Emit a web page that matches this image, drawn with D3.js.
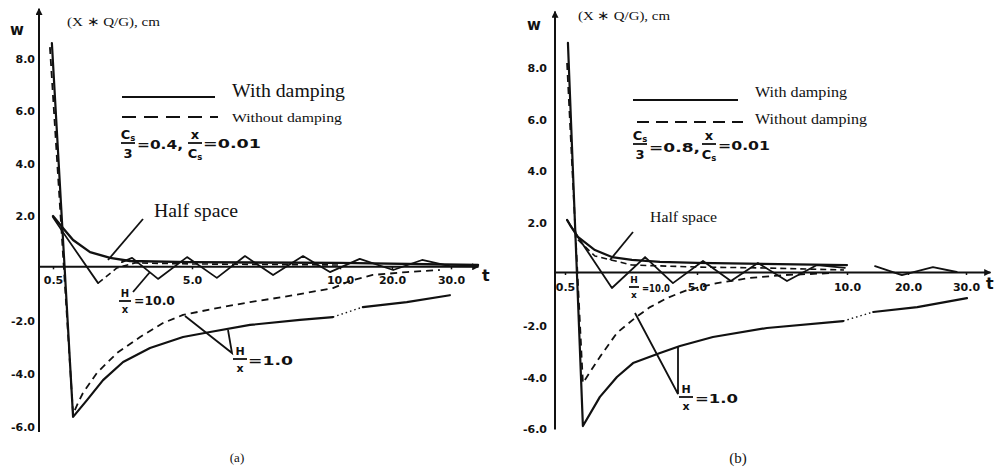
<!DOCTYPE html>
<html><head><meta charset="utf-8">
<script src="https://cdn.jsdelivr.net/npm/d3@7"></script>
<style>
body{margin:0;background:#fff}
svg{display:block}
.hand{font-family:"DejaVu Sans",sans-serif;font-weight:bold;fill:#111}
.serif{font-family:"Liberation Serif","Times New Roman",serif;fill:#111}
</style></head><body>
<svg id="c" width="994" height="472"></svg>
<script>
// ---------- data ----------
const xTicks = [0.5, 5, 10, 20, 30];
const xTickLabels = ["0.5", "5.0", "10.0", "20.0", "30.0"];
const yTicks = [8, 6, 4, 2, -2, -4, -6];
const yTickLabels = ["8.0", "6.0", "4.0", "2.0", "-2.0", "-4.0", "-6.0"];
const seriesNames = ["With damping", "Without damping"];
const curveNames = ["Half space", "H/x = 10.0", "H/x = 1.0"];

// panel (a): Cs/3 = 0.4, x/Cs = 0.01
const aH1Damped = [[0.46,8.49],[1.15,-5.73],[1.60,-5.09],[2.12,-4.33],[2.77,-3.64],[3.64,-3.11],[4.71,-2.69],[5.61,-2.50],[6.96,-2.23],[8.65,-2.04],[9.76,-1.93],null,[14.4,-1.55],[22.5,-1.36],[29.8,-1.10]];
const aH1Dotted = [[9.76,-1.93],[14.4,-1.55]];
const aH1Undamped = [[0.39,8.34],[1.15,-5.62],[1.31,-5.2],[1.47,-4.82],[1.92,-4.06],[2.57,-3.30],[3.32,-2.69],[4.06,-2.16],[4.71,-1.85],[5.84,-1.59],[6.96,-1.36],[8.07,-1.17],[9.76,-0.83],[11.9,-0.56],[16.3,-0.33],[22.5,-0.22],[28.1,-0.14]];
const aHalfSpace = [[0.5,1.91],[0.82,1.46],[1.15,1.00],[1.70,0.54],[2.35,0.32],[2.99,0.20],[4.93,0.16],[10,0.13],[35,0.05]];
const aH10Damped = [[0.5,1.87],[0.82,1.30],[1.96,-0.64],null,[2.73,0.16],[3.06,0.32],[3.90,-0.48],[4.84,0.35],[5.84,-0.44],[6.79,0.39],[7.74,-0.33],[8.75,0.39],[9.66,-0.22],[13.8,0.28],[20.2,-0.14],[25.1,0.24],[29.8,0.01],[34.5,0]];
const aH10Undamped = [[1.96,-0.64],[2.57,-0.06],[3.15,0.13],[4.93,0.09],[10,0.05]];

// panel (b): Cs/3 = 0.8, x/Cs = 0.01
const bH1Damped = [[0.60,8.88],[1.11,-5.97],[1.69,-4.84],[2.27,-4.07],[2.82,-3.53],[3.74,-3.14],[4.42,-2.87],[5.53,-2.52],[7.33,-2.17],[9.87,-1.90],null,[14.3,-1.55],[21.6,-1.36],[30.2,-1.01]];
const bH1Dotted = [[9.87,-1.90],[14.3,-1.55]];
const bH1Undamped = [[0.57,8.1],[1.11,-4.30],[1.69,-3.29],[2.27,-2.36],[2.89,-1.78],[3.40,-1.36],[3.98,-1.01],[4.66,-0.70],[5.67,-0.43],[6.77,-0.23],[7.87,-0.12],[9.53,-0.04]];
const bHalfSpace = [[0.57,2.02],[0.67,1.82],[0.94,1.36],[1.52,0.85],[2.10,0.58],[2.78,0.47],[3.74,0.39],[5,0.35],[10,0.27]];
const bH10Damped = [[0.57,2.02],[0.94,1.36],[2.10,-0.62],[3.23,0.58],[4.18,-0.43],[5.2,0.43],[6.13,-0.35],[7.03,0.35],[8.0,-0.35],[9.0,0.27],[9.93,0.16],null,[14.6,0.23],[19.0,-0.12],[24.3,0.19],[28.4,0.0]];
const bH10Undamped = [[0.94,1.25],[1.52,0.62],[2.78,0.27],[5.1,0.19],[7.1,0.16],[9.9,0.08]];

// ---------- drawing ----------
const svg = d3.select("#c");
svg.append("defs").append("marker").attr("id","arr").attr("viewBox","0 0 10 10")
  .attr("refX",9).attr("refY",5).attr("markerWidth",9).attr("markerHeight",7)
  .attr("markerUnits","userSpaceOnUse").attr("orient","auto")
  .append("path").attr("d","M0,0L10,5L0,10z").attr("fill","#111");

const panels = [
  { id:"a", xd:[0,0.5,5,10,20,30,35], xr:[39,53,192,340,392,451,478],
    yd:[-6.3,9.8], yr:[431.9,8.7], ypad:4, xpad:7,
    curves:[
      {d:aHalfSpace, w:2.4, dash:null},
      {d:aH10Damped, w:1.8, dash:null},
      {d:aH10Undamped, w:1.6, dash:"6,4"},
      {d:aH1Undamped, w:1.8, dash:"7,5"},
      {d:aH1Damped, w:2.2, dash:null},
      {d:aH1Dotted, w:1.4, dash:"1.5,3"}
    ]},
  { id:"b", xd:[0,0.5,5,10,20,30,35], xr:[555,565,697,847,908,966,990],
    yd:[-6.1,10.1], yr:[429.4,11.4], ypad:8, xpad:8,
    curves:[
      {d:bHalfSpace, w:2.2, dash:null},
      {d:bH10Damped, w:1.8, dash:null},
      {d:bH10Undamped, w:1.6, dash:"6,4"},
      {d:bH1Undamped, w:1.8, dash:"7,5"},
      {d:bH1Damped, w:2.2, dash:null},
      {d:bH1Dotted, w:1.4, dash:"1.5,3"}
    ]}
];

panels.forEach(p => {
  const x = d3.scaleLinear().domain(p.xd).range(p.xr);
  const y = d3.scaleLinear().domain(p.yd).range(p.yr);
  const g = svg.append("g");
  // x axis
  const xa = g.append("g").attr("transform",`translate(0,${y(0)})`)
    .call(d3.axisBottom(x).tickValues(xTicks).tickFormat((d,i)=>xTickLabels[i])
      .tickSize(3).tickSizeOuter(0).tickPadding(p.xpad));
  xa.select(".domain").attr("stroke","#111").attr("stroke-width",2).attr("marker-end","url(#arr)");
  xa.selectAll(".tick line").attr("stroke","#111").attr("stroke-width",1.5);
  xa.selectAll("text").attr("class","hand").attr("font-size",11).attr("font-family",null);
  // y axis
  const ya = g.append("g").attr("transform",`translate(${x(0)},0)`)
    .call(d3.axisLeft(y).tickValues(yTicks).tickFormat((d,i)=>yTickLabels[i])
      .tickSize(0).tickSizeOuter(0).tickPadding(p.ypad));
  ya.select(".domain").attr("stroke","#111").attr("stroke-width",2)
    .attr("d",`M0,${y.range()[0]}V${y.range()[1]}`).attr("marker-end","url(#arr)");
  ya.selectAll("text").attr("class","hand").attr("font-size",11).attr("font-family",null).attr("dy","0.55em");
  // curves
  const line = d3.line().defined(d => d !== null).x(d => x(d[0])).y(d => y(d[1]));
  p.curves.forEach(c => {
    g.append("path").attr("d", line(c.d)).attr("fill","none").attr("stroke","#111")
      .attr("stroke-width", c.w).attr("stroke-dasharray", c.dash)
      .attr("stroke-linejoin","round").attr("stroke-linecap", c.dash ? "butt" : "round");
  });
});

// ---------- annotations ----------
function txt(x, y, s, cls, size, len, anchor){
  const t = svg.append("text").attr("x",x).attr("y",y).attr("class",cls)
    .attr("font-size",size).text(s);
  if (len) t.attr("textLength",len).attr("lengthAdjust","spacingAndGlyphs");
  if (anchor) t.attr("text-anchor",anchor);
  return t;
}
function cs(x, y, size){
  const t = svg.append("text").attr("x",x).attr("y",y).attr("class","hand")
    .attr("font-size",size).attr("text-anchor","middle");
  t.append("tspan").text("C");
  t.append("tspan").attr("font-size",size*0.65).attr("dy",size*0.12).text("s");
  return t;
}
function frac(cx, bar, num, den, size, half){
  const drawPart = (s, yy) => s === "Cs" ? cs(cx, yy, size) : txt(cx, yy, s, "hand", size, null, "middle");
  drawPart(num, bar - 4);
  svg.append("line").attr("x1",cx-half).attr("x2",cx+half).attr("y1",bar).attr("y2",bar)
    .attr("stroke","#111").attr("stroke-width",1.8);
  drawPart(den, bar + size*1.18);
}
function leader(pts, w){
  svg.append("path").attr("d", d3.line()(pts)).attr("fill","none").attr("stroke","#111").attr("stroke-width", w||1.8);
}

// panel a
txt(67, 26, "(X \u2217 Q/G), cm", "serif", 13, 93);
txt(10, 35, "w", "hand", 15);
svg.append("line").attr("x1",122).attr("x2",215).attr("y1",97).attr("y2",97).attr("stroke","#111").attr("stroke-width",2.2);
txt(232, 97, seriesNames[0], "serif", 19, 113);
svg.append("line").attr("x1",122).attr("x2",218).attr("y1",117).attr("y2",117).attr("stroke","#111").attr("stroke-width",2.2).attr("stroke-dasharray","14,8");
txt(232, 122, seriesNames[1], "serif", 13, 110);
frac(128, 143, "Cs", "3", 13, 7);
txt(137, 149, "=0.4,", "hand", 13, 46);
frac(195, 143, "x", "Cs", 13, 7);
txt(203, 148, "=0.01", "hand", 13, 58);
txt(154, 217, curveNames[0], "serif", 18, 84);
leader([[143,219],[108,260]]);
frac(125, 301, "H", "x", 10, 6);
txt(134, 305, "=10.0", "hand", 12, 41);
leader([[133,292],[150,272]]);
frac(240, 359, "H", "x", 11, 7);
txt(248, 365, "=1.0", "hand", 13, 45);
leader([[185,316],[232,353],[228,330]]);
txt(482, 281, "t", "hand", 16);
txt(237, 462, "(a)", "serif", 13, null, "middle");

// panel b
txt(578, 20, "(X \u2217 Q/G), cm", "serif", 13, 92);
txt(527, 30, "w", "hand", 15);
svg.append("line").attr("x1",633).attr("x2",738).attr("y1",100).attr("y2",100).attr("stroke","#111").attr("stroke-width",2.2);
txt(755, 97, seriesNames[0], "serif", 15, 92);
svg.append("line").attr("x1",637).attr("x2",743).attr("y1",122).attr("y2",122).attr("stroke","#111").attr("stroke-width",2.2).attr("stroke-dasharray","12,7");
txt(755, 124, seriesNames[1], "serif", 15, 112);
frac(640, 144, "Cs", "3", 13, 7);
txt(649, 152, "=0.8,", "hand", 13, 51);
frac(709, 144, "x", "Cs", 13, 7);
txt(718, 150, "=0.01", "hand", 13, 52);
txt(650, 222, curveNames[0], "serif", 15, 67);
leader([[633,232],[610,260]]);
frac(634, 287, "H", "x", 9, 5);
txt(642, 292, "=10.0", "hand", 10, 28);
frac(686, 397, "H", "x", 11, 7);
txt(695, 403, "=1.0", "hand", 13, 43);
leader([[635,313],[678,394],[678,346]]);
txt(986, 289, "t", "hand", 16);
txt(738, 463, "(b)", "serif", 15, null, "middle");
</script>
</body></html>
